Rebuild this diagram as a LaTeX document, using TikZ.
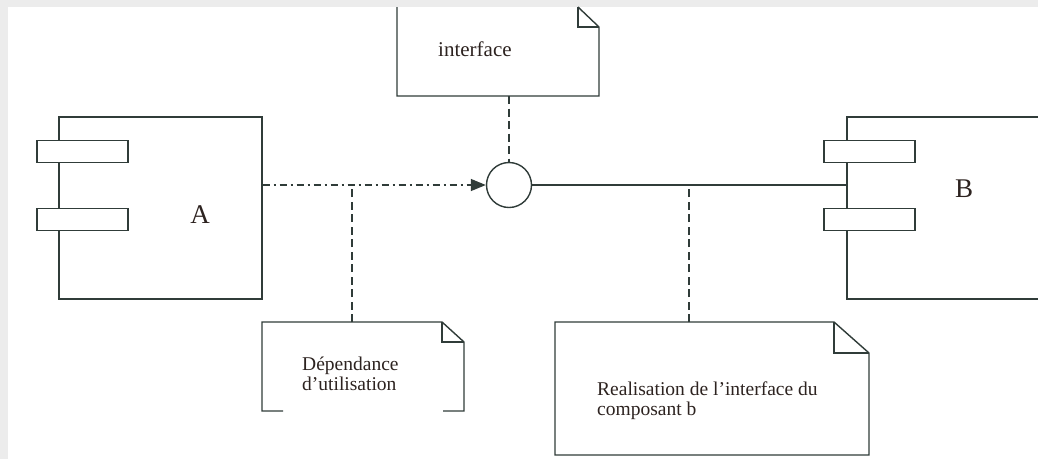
\documentclass[tikz,border=0pt]{standalone}
\usepackage{fontspec}
\setmainfont{Liberation Serif}
\usetikzlibrary{arrows.meta}
\definecolor{ink}{RGB}{48,60,57}
\definecolor{txt}{RGB}{45,35,32}
\definecolor{margin}{RGB}{236,236,236}
\begin{document}
\begin{tikzpicture}[x=1pt,y=-1pt,
  line/.style={draw=ink, line width=1.4pt},
  comp/.style={line, rectangle, inner sep=0pt},
  bar/.style={line, rectangle, fill=white, inner sep=0pt,
              minimum width=91pt, minimum height=22pt},
  iface/.style={line, circle, fill=white, inner sep=0pt, minimum size=45pt},
  note/.style={line, line join=miter},
  usage/.style={line, dash pattern=on 7pt off 4pt on 2pt off 4pt,
                -{Triangle[length=15pt,width=12pt]}},
  anchorline/.style={line, dash pattern=on 8pt off 4.5pt},
  notetext/.style={text=txt, inner sep=0pt, align=left,
                   font=\fontsize{19.5}{20}\selectfont},
  comptext/.style={text=txt, inner sep=0pt, font=\fontsize{27}{27}\selectfont}]
\useasboundingbox (0,0) rectangle (1038,459);
\fill[margin] (0,0) rectangle (1038,459);
\fill[white] (8,7) rectangle (1038,459);
\clip (0,0) rectangle (1038,459);

% component A
\node[comp, minimum width=203pt, minimum height=182pt] (A) at (160.5,208) {};
\node[bar] (a1) at (82.5,151.5) {};
\node[bar] (a2) at (82.5,219.5) {};
\node[comptext] (Alab) at (200,214.5) {A};

% component B (runs past the right edge)
\node[comp, minimum width=230pt, minimum height=182pt] (B) at (962,208) {};
\node[bar] (b1) at (869.5,151.5) {};
\node[bar] (b2) at (869.5,219.5) {};
\node[comptext] (Blab) at (964,189) {B};

% provided interface
\node[iface] (I) at (509,185) {};

% usage dependency and realisation
\draw[usage] (A.east |- I) -- (I.west);
\draw[line] (I.east) -- (I -| B.west);

% note: interface
\draw[note] (397,7) -- (397,96) -- (599,96) -- (599,27) -- (578,7);
\draw[note] (578,7) -- (578,27) -- (599,27);
\node[notetext, font=\fontsize{21}{21}\selectfont, anchor=base west] (tI) at (438,56) {interface};
\coordinate (nI) at (509,96);
\draw[anchorline] (nI) -- (I.north);

% note: usage dependency
\draw[note] (283,411) -- (262,411) -- (262,322) -- (442,322) -- (464,342) -- (464,411) -- (443,411);
\draw[note] (442,322) -- (442,342) -- (464,342);
\node[notetext, anchor=north west] (tD) at (302,356.5) {Dépendance\\d’utilisation};
\coordinate (nD) at (352,322);
\coordinate (jD) at (352,185);
\draw[anchorline] (nD) -- (jD);

% note: realisation
\draw[note] (834,322) -- (555,322) -- (555,455) -- (869,455) -- (869,353) -- cycle;
\draw[note] (834,322) -- (834,353) -- (869,353);
\node[notetext, anchor=north west] (tR) at (597,381.5) {Realisation de l’interface du\\composant b};
\coordinate (nR) at (689,322);
\coordinate (jR) at (689,185);
\draw[anchorline] (nR) -- (jR);
\end{tikzpicture}
\end{document}
